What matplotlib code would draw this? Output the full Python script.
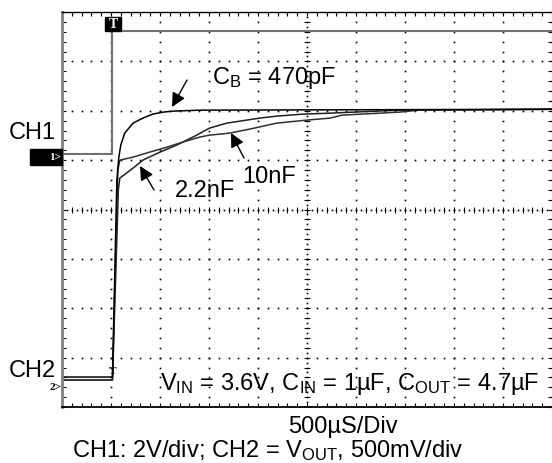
import numpy as np
import matplotlib
matplotlib.use("Agg")
import matplotlib.pyplot as plt
from matplotlib.patches import Rectangle

plt.rcParams['font.family'] = ['Liberation Sans', 'DejaVu Sans']
plt.rcParams['mathtext.default'] = 'regular'

# ---- data (time in microseconds from screen left, level in screen divisions) ----
ch1_t = [0, 510, 510, 5000]
ch1_y = [5.12, 5.12, 7.61, 7.61]

t_470p = [0, 515, 560, 580, 600, 640, 725, 825, 925, 1030, 1130, 1405, 5000]
y_470p = [0.607, 0.607, 4.595, 5.061, 5.304, 5.547, 5.749, 5.850, 5.931, 5.972, 5.992, 6.012, 6.03]

t_10n = [0, 515, 570, 590, 725, 895, 1070, 1230, 1405, 1505, 1710, 1915, 2190, 2495, 2730, 2860, 3440, 3645, 5000]
y_10n = [0.547, 0.547, 4.80, 5.0, 5.061, 5.162, 5.263, 5.364, 5.466, 5.506, 5.547, 5.628, 5.749, 5.810, 5.850, 5.911, 5.972, 6.012, 6.03]

t_2n2 = [0, 515, 575, 590, 725, 825, 1000, 1170, 1355, 1505, 1680, 2015, 2190, 2455, 2730, 3440, 5000]
y_2n2 = [0.547, 0.547, 4.40, 4.636, 4.838, 5.0, 5.162, 5.304, 5.486, 5.648, 5.749, 5.850, 5.891, 5.931, 5.951, 6.012, 6.03]

time_per_div = 500.0
n_xdiv = 10
n_ydiv = 8

W, H = 552, 463
fig = plt.figure(figsize=(W / 100, H / 100), dpi=100)

def fx(px):
    return px / W

def fy(py):
    return 1 - py / H

ax = fig.add_axes([fx(62), fy(407), fx(552) - fx(62), fy(12) - fy(407)])
ax.set_xlim(0, n_xdiv)
ax.set_ylim(0, n_ydiv)

# grid dots
sub = 0.2
ys = np.arange(0, n_ydiv + 1e-6, sub)
xs = np.arange(0, n_xdiv + 1e-6, sub)
dot = dict(ls='none', marker='s', ms=1.2, mew=0, color='k')
for i in range(1, n_xdiv + 1):
    if i == 5:
        continue
    ax.plot(np.full_like(ys, i), ys, **dot)
for j in range(1, n_ydiv):
    if j == 4:
        continue
    ax.plot(xs, np.full_like(xs, j), **dot)
# centre lines with fine ticks
ys2 = np.arange(0, n_ydiv + 1e-6, 0.1)
xs2 = np.arange(0, n_xdiv + 1e-6, 0.1)
ax.plot(np.full_like(ys2, 5), ys2, **dot)
ax.plot(np.full_like(ys, 5), ys, ls='none', marker='_', ms=5, mew=0.7, color='k')
ax.plot(xs2, np.full_like(xs2, 4), **dot)
ax.plot(xs, np.full_like(xs, 4), ls='none', marker='|', ms=5, mew=0.7, color='k')

# traces
def tx(t):
    return np.asarray(t) / time_per_div

ax.plot(tx(ch1_t), ch1_y, color='#707070', lw=1.5)
ax.plot(tx(t_2n2), y_2n2, color='#202020', lw=1.1)
ax.plot(tx(t_10n), y_10n, color='#303030', lw=1.1)
ax.plot(tx(t_470p), y_470p, color='k', lw=1.1)

# frame / ticks
ax.set_xticks(xs)
ax.set_yticks(ys)
ax.tick_params(direction='in', length=3, width=0.8, top=True, right=True,
               labelbottom=False, labelleft=False, color='k')
ax.spines['left'].set_color('#808080')
ax.spines['left'].set_linewidth(2)
ax.spines['top'].set_linewidth(1)
ax.spines['bottom'].set_linewidth(1.3)
ax.spines['right'].set_visible(False)

# markers
fig.patches.append(Rectangle((fx(30), fy(165)), fx(62) - fx(30), fy(149) - fy(165),
                             transform=fig.transFigure, color='k', zorder=5))
fig.text(fx(61), fy(157), '1>', color='white', fontsize=8, fontweight='bold',
         family='Liberation Serif', ha='right', va='center', zorder=6)
fig.text(fx(61), fy(388), '2>', color='k', fontsize=8, fontweight='bold',
         family='Liberation Serif', ha='right', va='center')
fig.patches.append(Rectangle((fx(105), fy(31)), fx(121) - fx(105), fy(17) - fy(31),
                             transform=fig.transFigure, color='k', zorder=5))
fig.text(fx(113), fy(24), 'T', color='white', fontsize=10, fontweight='bold',
         family='Liberation Serif', ha='center', va='center', zorder=6)
fig.text(fx(113), fy(371), 'T', color='k', fontsize=8, fontweight='bold',
         family='Liberation Serif', ha='center', va='center')

# labels
fs = 17
fig.text(fx(9), fy(139), 'CH1', fontsize=fs, ha='left', va='baseline')
fig.text(fx(9), fy(377), 'CH2', fontsize=fs, ha='left', va='baseline')
fig.text(fx(212), fy(84), 'C$_{B}$ = 470pF', fontsize=fs, ha='left', va='baseline')
fig.text(fx(175), fy(197), '2.2nF', fontsize=fs, ha='left', va='baseline')
fig.text(fx(242), fy(183), '10nF', fontsize=fs, ha='left', va='baseline')
fig.text(fx(160), fy(390), 'V$_{IN}$ = 3.6V, C$_{IN}$ = 1\u00b5F, C$_{OUT}$ = 4.7\u00b5F',
         fontsize=fs, ha='left', va='baseline')
fig.text(fx(343), fy(433), '500\u00b5S/Div', fontsize=fs, ha='center', va='baseline')
fig.text(fx(72), fy(457), 'CH1: 2V/div; CH2 = V$_{OUT}$, 500mV/div', fontsize=fs,
         ha='left', va='baseline')

# arrows
arrows = [((187, 80), (172, 107)), ((154, 190), (140, 166)), ((244, 158), (231, 133))]
for (x0, y0), (x1, y1) in arrows:
    fig.add_artist(matplotlib.patches.FancyArrowPatch(
        (fx(x0), fy(y0)), (fx(x1), fy(y1)), transform=fig.transFigure,
        arrowstyle='-|>,head_length=0.6,head_width=0.3', mutation_scale=14,
        color='k', lw=1, shrinkA=0, shrinkB=0))

fig.savefig('out.png', dpi=100)
